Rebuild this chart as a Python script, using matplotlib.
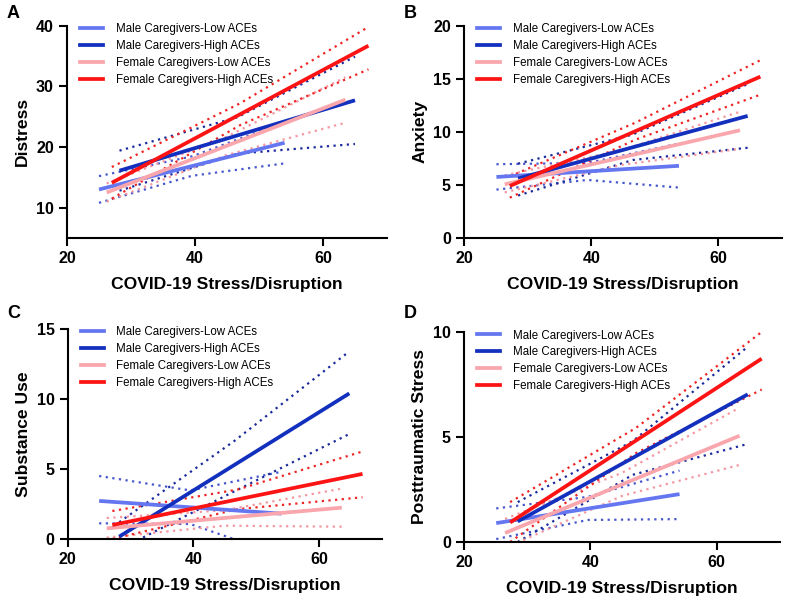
import matplotlib
matplotlib.use("Agg")
import matplotlib.pyplot as plt
from matplotlib.lines import Line2D

plt.rcParams['font.family'] = ['Liberation Sans', 'DejaVu Sans']

groups = ["Male Caregivers-Low ACEs", "Male Caregivers-High ACEs",
          "Female Caregivers-Low ACEs", "Female Caregivers-High ACEs"]
fit_colors = ["#6476f0", "#1230bd", "#f9a6ad", "#fc1414"]
ci_colors = ["#4656cc", "#1a2a9c", "#f497a0", "#ee2424"]

x_label = "COVID-19 Stress/Disruption"

# x range of each group's line: [start, end]; fit values at start/end
# CI bands read at [start, middle, end]

# Panel A - Distress
A_x = [[25.0, 54.0], [28.2, 65.0], [26.2, 63.5], [27.0, 67.1]]
A_fit = [[13.0, 20.7], [16.1, 27.7], [12.5, 27.8], [14.1, 36.7]]
A_lo = [[10.8, 15.25, 17.3], [12.8, 18.9, 20.5], [11.0, 18.65, 24.0], [11.5, 23.6, 32.8]]
A_hi = [[15.2, 18.45, 24.1], [19.4, 24.9, 34.9], [14.0, 21.65, 31.5], [16.7, 27.2, 39.8]]

# Panel B - Anxiety
B_x = [[25.1, 53.8], [28.5, 64.6], [26.4, 63.4], [27.2, 66.6]]
B_fit = [[5.75, 6.8], [5.6, 11.5], [5.06, 10.15], [4.9, 15.2]]
B_lo = [[4.56, 5.47, 4.75], [4.0, 7.35, 8.5], [4.3, 6.9, 8.4], [3.8, 9.25, 13.5]]
B_hi = [[6.95, 7.07, 8.9], [7.0, 9.75, 14.5], [5.9, 8.3, 11.9], [5.8, 10.85, 16.75]]

# Panel C - Substance Use
C_x = [[25.0, 54.0], [28.2, 64.8], [26.2, 63.6], [27.1, 66.9]]
C_fit = [[2.72, 1.81], [0.17, 10.4], [0.76, 2.24], [1.0, 4.65]]
C_lo = [[1.12, 1.07, -1.18], [-0.75, 3.4, 7.5], [0.1, 0.95, 0.88], [0.0, 2.13, 2.98]]
C_hi = [[4.5, 3.47, 4.8], [1.2, 7.0, 13.4], [1.5, 2.05, 3.6], [2.0, 3.53, 6.25]]

# Panel D - Posttraumatic Stress
D_x = [[25.1, 54.1], [28.5, 64.9], [26.5, 63.6], [27.3, 67.1]]
D_fit = [[0.9, 2.28], [0.98, 7.03], [0.43, 5.06], [0.93, 8.73]]
D_lo = [[0.14, 1.05, 1.09], [0.0, 3.2, 4.67], [-0.3, 2.2, 3.67], [0.0, 4.23, 7.26]]
D_hi = [[1.6, 2.15, 3.4], [1.9, 4.8, 9.3], [1.1, 3.3, 6.4], [1.9, 5.43, 10.0]]

panels = [
    ("A", "Distress", A_x, A_fit, A_lo, A_hi, (5, 40), [10, 20, 30, 40]),
    ("B", "Anxiety", B_x, B_fit, B_lo, B_hi, (0, 20), [0, 5, 10, 15, 20]),
    ("C", "Substance Use", C_x, C_fit, C_lo, C_hi, (0, 15), [0, 5, 10, 15]),
    ("D", "Posttraumatic Stress", D_x, D_fit, D_lo, D_hi, (0, 10), [0, 5, 10]),
]

W, H = 790, 602
fig = plt.figure(figsize=(W / 100, H / 100), dpi=100)

# axes rectangles in pixels: left, top, right, bottom
rects = [(67, 25.7, 387, 238), (464, 25.7, 782, 238),
         (67.7, 329, 382, 539), (464, 332, 780, 542)]
letter_pos = [(7, 18), (404, 18), (7, 318), (404, 318)]

for (letter, ylabel, xs, fits, los, his, ylim, yticks), (l, t, r, b), (lx, ly) in zip(panels, rects, letter_pos):
    ax = fig.add_axes([l / W, 1 - b / H, (r - l) / W, (b - t) / H])
    for i in range(4):
        x0, x1 = xs[i]
        xci = [x0, (x0 + x1) / 2, x1]
        ax.plot(xci, los[i], color=ci_colors[i], lw=1.6, linestyle=(0, (1, 2.0)))
        ax.plot(xci, his[i], color=ci_colors[i], lw=1.6, linestyle=(0, (1, 2.0)))
    for i in range(4):
        ax.plot(xs[i], fits[i], color=fit_colors[i], lw=2.7, solid_capstyle='butt')
    ax.set_xlim(20, 70)
    ax.set_ylim(*ylim)
    ax.set_xticks([20, 40, 60])
    ax.set_yticks(yticks)
    for s in ['top', 'right']:
        ax.spines[s].set_visible(False)
    for s in ['left', 'bottom']:
        ax.spines[s].set_linewidth(1.5)
    ax.tick_params(width=1.5, length=5.5, labelsize=11.5, direction='out', pad=4)
    for lab in ax.get_xticklabels() + ax.get_yticklabels():
        lab.set_fontweight('bold')
    ax.set_xlabel(x_label, fontsize=12.6, fontweight='bold', labelpad=8)
    ax.set_ylabel(ylabel, fontsize=12.6, fontweight='bold', labelpad=4)
    handles = [Line2D([0], [0], color=c, lw=2.7) for c in fit_colors]
    ax_w = r - l
    ax_h = b - t
    ax.legend(handles, groups, loc='upper left', frameon=False,
              bbox_to_anchor=(13 / ax_w, 1 + 2.5 / ax_h),
              fontsize=8.3, handlelength=2.0, handletextpad=1.1, labelspacing=0.42,
              borderpad=0, borderaxespad=0)
    fig.text(lx / W, 1 - ly / H, letter, fontsize=13, fontweight='bold',
             ha='left', va='baseline')

fig.savefig("out.png", dpi=100)
